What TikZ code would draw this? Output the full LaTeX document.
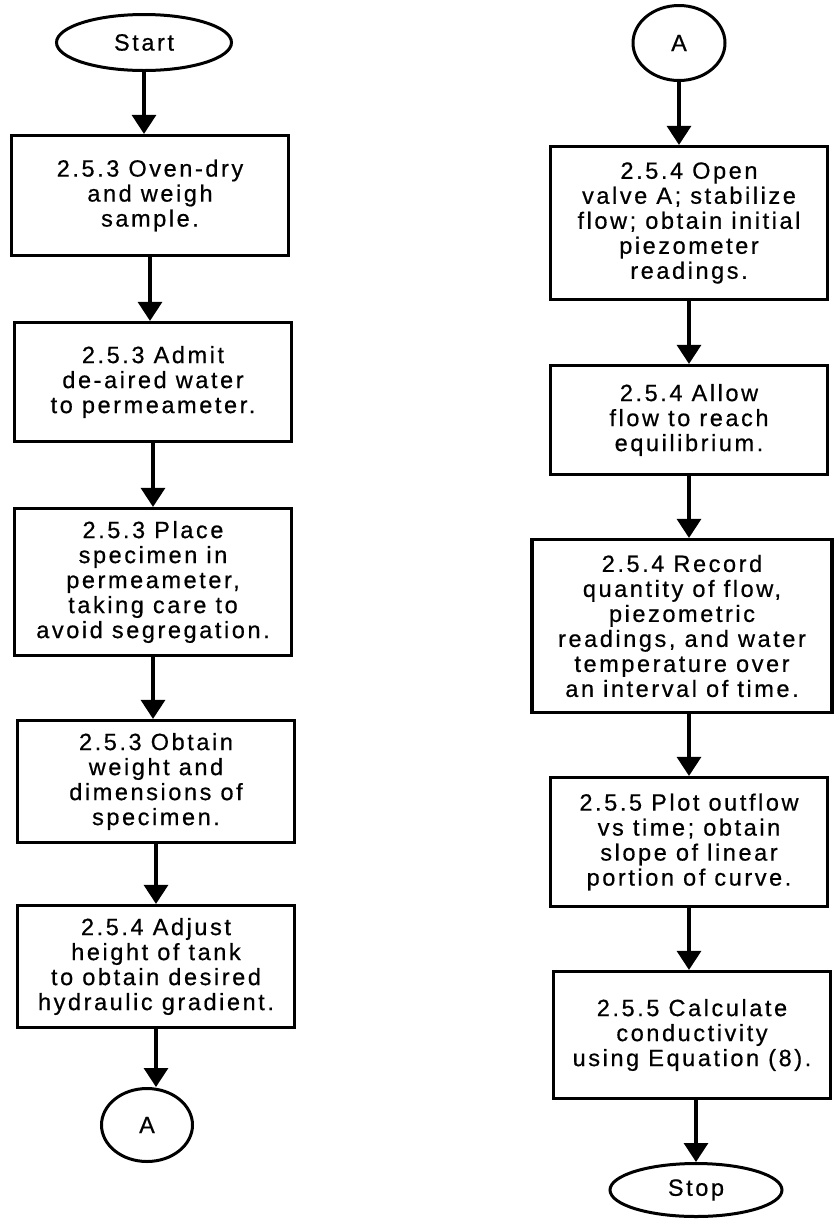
\documentclass[tikz,border=0pt]{standalone}
\usepackage{fontspec}
\setmainfont{Liberation Sans}[LetterSpace=11, FakeBold=0.6]
\usetikzlibrary{arrows.meta, shapes.geometric}

\begin{document}
\begin{tikzpicture}[x=1pt, y=-1pt,
    every node/.style={font=\fontsize{23.5}{25}\selectfont, align=center, inner sep=0pt},
    stepbox/.style={draw, line width=3.2pt, rectangle, minimum width=277pt},
    term/.style={draw, line width=3pt, ellipse},
    flow/.style={-{Triangle[length=19pt, width=24pt]}, line width=3.2pt}]
      \useasboundingbox (0,0) rectangle (836,1219);

      % Columna izquierda
      \node[term, minimum width=175pt, minimum height=56pt] (start) at (144,42.5) {Start};
      \node[stepbox, minimum height=120pt] (ovendry) at (150,195.5) {2.5.3 Oven-dry\\and weigh\\sample.};
      \node[stepbox, minimum height=119pt] (admit) at (153,382) {2.5.3 Admit\\de-aired water\\to permeameter.};
      \node[stepbox, minimum height=147pt] (place) at (153,582) {2.5.3 Place\\specimen in\\permeameter,\\taking care to\\avoid segregation.};
      \node[stepbox, minimum height=122pt] (weight) at (156,781.5) {2.5.3 Obtain\\weight and\\dimensions of\\specimen.};
      \node[stepbox, minimum height=122pt] (adjust) at (156,966.5) {2.5.4 Adjust\\height of tank\\to obtain desired\\hydraulic gradient.};
      \node[term, minimum width=91pt, minimum height=73pt] (linkout) at (147,1125) {A};

      \draw[flow] (start) -- (start |- ovendry.north);
      \draw[flow] (ovendry) -- (ovendry |- admit.north);
      \draw[flow] (admit) -- (admit |- place.north);
      \draw[flow] (place) -- (place |- weight.north);
      \draw[flow] (weight) -- (weight |- adjust.north);
      \draw[flow] (adjust) -- (adjust |- linkout.north);

      % Columna derecha
      \node[term, minimum width=92pt, minimum height=75pt] (linkin) at (679,43) {A};
      \node[stepbox, minimum height=153pt] (openvalve) at (689,223) {2.5.4 Open\\valve A; stabilize\\flow; obtain initial\\piezometer\\readings.};
      \node[stepbox, minimum height=109pt] (allow) at (689,420) {2.5.4 Allow\\flow to reach\\equilibrium.};
      \node[stepbox, minimum width=300pt, minimum height=173pt] (record) at (682,626) {2.5.4 Record\\quantity of flow,\\piezometric\\readings, and water\\temperature over\\an interval of time.};
      \node[stepbox, minimum height=129pt] (plot) at (689,842) {2.5.5 Plot outflow\\vs time; obtain\\slope of linear\\portion of curve.};
      \node[stepbox, minimum height=127pt] (calc) at (692,1035) {2.5.5 Calculate\\conductivity\\using Equation (8).};
      \node[term, minimum width=172pt, minimum height=53pt] (stop) at (696,1190) {Stop};

      \draw[flow] (linkin) -- (linkin |- openvalve.north);
      \draw[flow] (openvalve) -- (openvalve |- allow.north);
      \draw[flow] (allow) -- (allow |- record.north);
      \draw[flow] (allow |- record.south) -- (allow |- plot.north);
      \draw[flow] (plot) -- (plot |- calc.north);
      \draw[flow] (stop |- calc.south) -- (stop);
    \end{tikzpicture}
\end{document}
